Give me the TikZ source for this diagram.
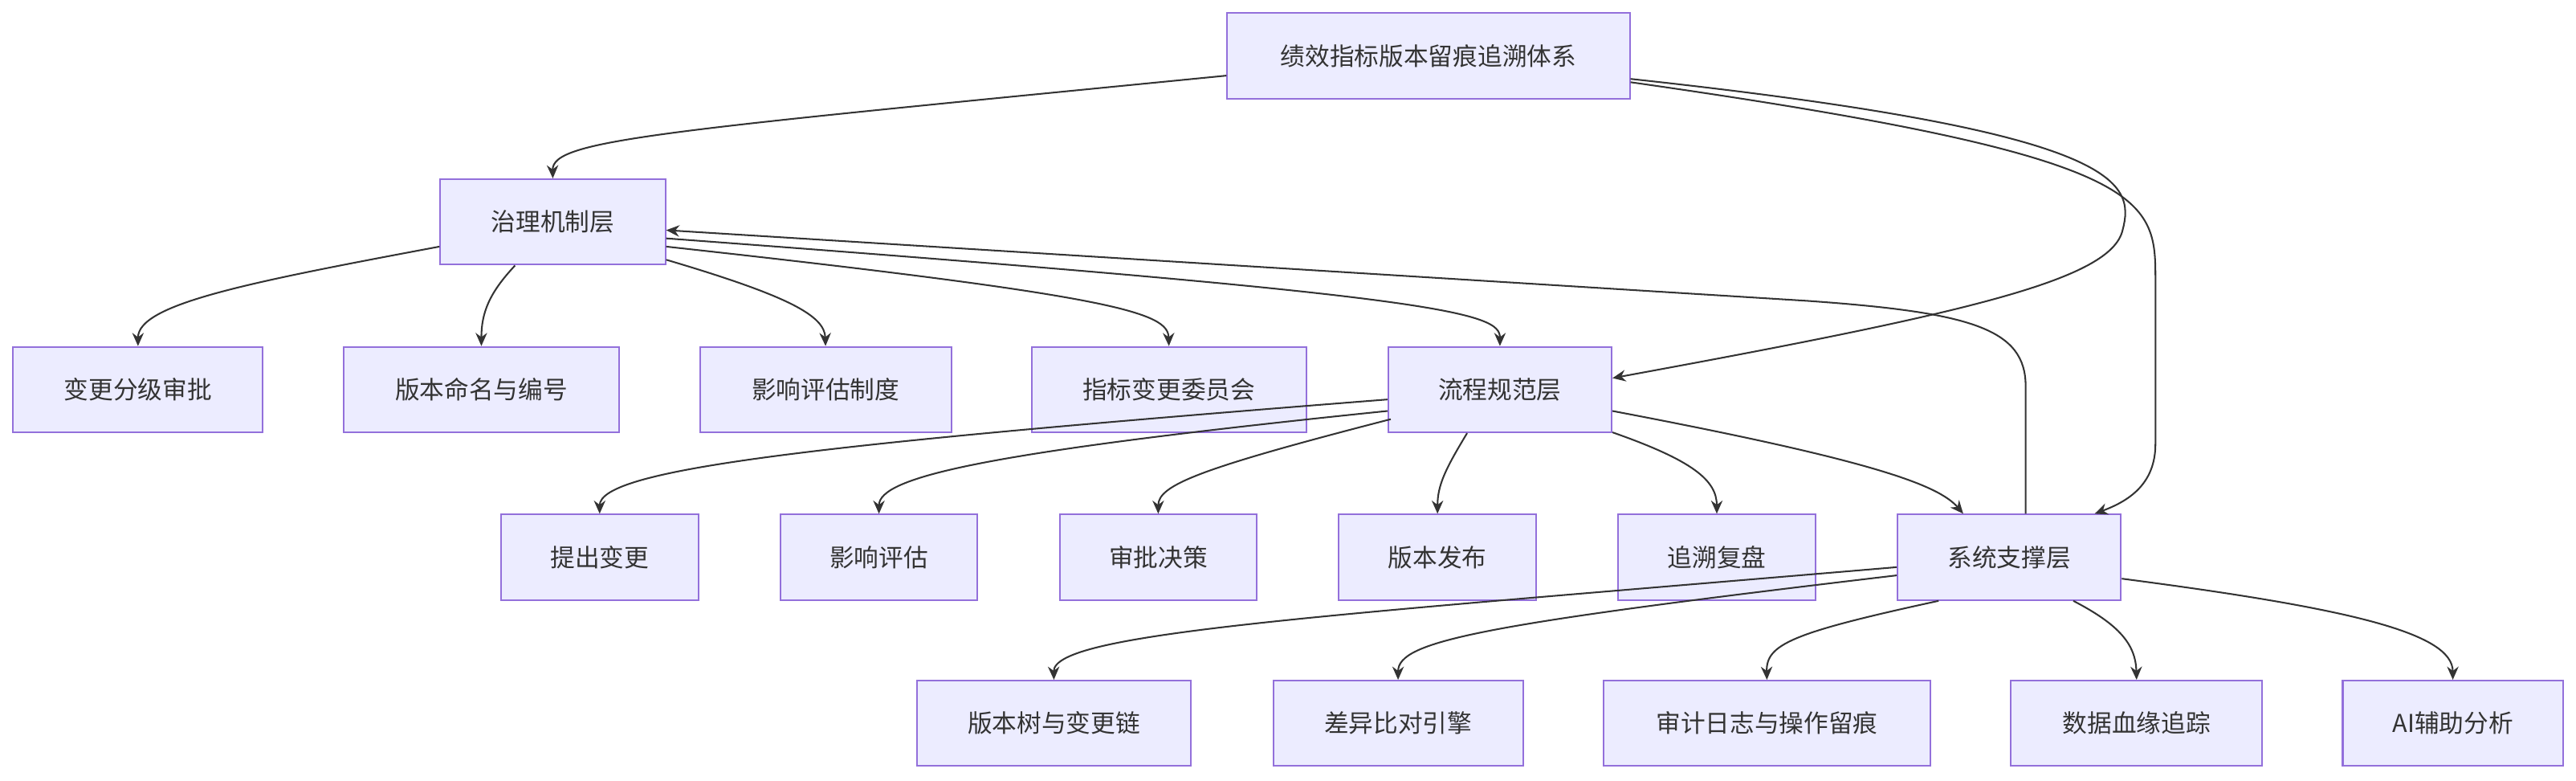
\documentclass[tikz,border=0pt]{standalone}
\usepackage{fontspec}
\setmainfont{Noto Sans CJK SC}
\usetikzlibrary{calc,arrows.meta}
\begin{document}
\begin{tikzpicture}[x=1pt,y=-1pt,
  box/.style={draw=violet!60!purple!70,draw=mstroke,fill=mfill,line width=1pt,minimum height=52pt,inner sep=0pt,text=black!80,font=\fontsize{15}{18}\selectfont,anchor=center},
  e/.style={draw=black!80,line width=1pt,-{Stealth[length=8pt,width=7pt]}}]
\definecolor{mfill}{HTML}{ECECFF}
\definecolor{mstroke}{HTML}{9370DB}
\useasboundingbox (0,0) rectangle (1568,475);
\node[box,minimum width=245pt] (root) at (869.5,34) {绩效指标版本留痕追溯体系};
\node[box,minimum width=137pt] (gov) at (336.5,135) {治理机制层};
\node[box,minimum width=152pt] (g1) at (84,237) {变更分级审批};
\node[box,minimum width=168pt] (g2) at (293,237) {版本命名与编号};
\node[box,minimum width=153pt] (g3) at (502.5,237) {影响评估制度};
\node[box,minimum width=167pt] (g4) at (711.5,237) {指标变更委员会};
\node[box,minimum width=136pt] (flow) at (913,237) {流程规范层};
\node[box,minimum width=120pt] (f1) at (365,339) {提出变更};
\node[box,minimum width=120pt] (f2) at (535,339) {影响评估};
\node[box,minimum width=120pt] (f3) at (705,339) {审批决策};
\node[box,minimum width=120pt] (f4) at (875,339) {版本发布};
\node[box,minimum width=120pt] (f5) at (1045,339) {追溯复盘};
\node[box,minimum width=136pt] (sys) at (1223,339) {系统支撑层};
\node[box,minimum width=167pt] (s1) at (641.5,440) {版本树与变更链};
\node[box,minimum width=152pt] (s2) at (851,440) {差异比对引擎};
\node[box,minimum width=199pt] (s3) at (1075.5,440) {审计日志与操作留痕};
\node[box,minimum width=153pt] (s4) at (1300.5,440) {数据血缘追踪};
\node[box,minimum width=134pt] (s5) at (1493,440) {AI辅助分析};
% root edges
\draw[e] ($(root.west)+(0,12)$) .. controls (400,80) and (336,85) .. (gov.north);
\draw[e] ($(root.east)+(0,14)$) .. controls (1290,80) and (1300,110) .. (1292,140) .. controls (1285,170) and (1200,190) .. ($(flow.east)+(0,-7)$);
\draw[e] ($(root.east)+(0,16)$) .. controls (1310,95) and (1312,120) .. (1312,170) -- (1312,270) .. controls (1312,295) and (1295,305) .. ($(sys.north)+(52,0)$);
\draw[e] ($(sys.north)+(10,0)$) -- (1233,235) .. controls (1233,200) and (1200,190) .. (1100,183) -- ($(gov.east)+(0,5)$);
% gov edges
\draw[e] ($(gov.west)+(0,15)$) .. controls (150,172) and (84,185) .. (g1.north);
\draw[e] ($(gov.south)+(-23,0)$) .. controls (298,178) and (293,190) .. (g2.north);
\draw[e] ($(gov.east)+(0,23)$) .. controls (480,180) and (502,192) .. (g3.north);
\draw[e] ($(gov.east)+(0,15)$) .. controls (680,180) and (711,190) .. (g4.north);
\draw[e] ($(gov.east)+(0,10)$) .. controls (880,180) and (913,190) .. (flow.north);
% flow edges
\draw[e] ($(flow.west)+(0,6)$) .. controls (500,270) and (365,285) .. (f1.north);
\draw[e] ($(flow.west)+(0,13)$) .. controls (600,275) and (535,290) .. (f2.north);
\draw[e] ($(flow.west)+(2,18)$) .. controls (730,285) and (705,295) .. (f3.north);
\draw[e] ($(flow.south)+(-20,0)$) .. controls (880,285) and (875,295) .. (f4.north);
\draw[e] ($(flow.east)+(0,26)$) .. controls (1030,280) and (1045,292) .. (f5.north);
\draw[e] ($(flow.east)+(0,13)$) .. controls (1140,280) and (1180,295) .. ($(sys.north)+(-28,0)$);
% sys edges
\draw[e] ($(sys.west)+(0,6)$) .. controls (800,375) and (641,385) .. (s1.north);
\draw[e] ($(sys.west)+(0,11)$) .. controls (900,380) and (851,390) .. (s2.north);
\draw[e] ($(sys.south)+(-43,0)$) .. controls (1090,385) and (1075,392) .. (s3.north);
\draw[e] ($(sys.south)+(39,0)$) .. controls (1290,380) and (1300,392) .. (s4.north);
\draw[e] ($(sys.east)+(0,13)$) .. controls (1430,370) and (1493,385) .. (s5.north);
\end{tikzpicture}
\end{document}
